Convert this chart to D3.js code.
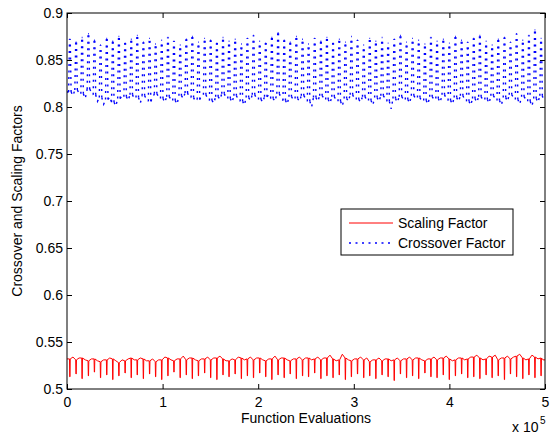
<!DOCTYPE html>
<html><head><meta charset="utf-8">
<script src="https://cdn.jsdelivr.net/npm/d3@7"></script>
<style>body{margin:0;background:#fff}svg{display:block}text{font-family:"Liberation Sans",Arial,sans-serif}</style>
</head><body><svg id="c" width="550" height="434"></svg>
<script>
// spike positions (function evaluations, thousands)
const spikeEvalsK = [3,9.5,15.8,22.4,28.7,35.1,41.6,47.9,54.3,60.8,67.2,73.5,79.9,86.4,92.7,99.1,105.6,111.9,118.4,124.8,131.1,137.5,144.0,150.3,156.8,163.2,169.5,175.9,182.4,188.7,195.1,201.6,207.9,214.3,220.8,227.2,233.5,239.9,246.4,252.7,259.1,265.6,271.9,278.3,284.8,291.2,297.5,303.9,310.4,316.7,323.1,329.6,335.9,342.3,348.8,355.2,361.5,367.9,374.4,380.7,387.1,393.6,399.9,406.3,412.8,419.2,425.5,431.9,438.4,444.7,451.1,457.6,463.9,470.3,476.8,483.2,489.5,495.9];
const crossoverPeak = [0.872,0.869,0.874,0.878,0.871,0.866,0.873,0.870,0.875,0.868,
0.872,0.876,0.869,0.873,0.867,0.871,0.874,0.870,0.866,0.872,
0.875,0.869,0.873,0.871,0.868,0.874,0.870,0.872,0.867,0.873,
0.876,0.870,0.868,0.874,0.879,0.871,0.869,0.875,0.872,0.867,
0.873,0.870,0.874,0.868,0.872,0.869,0.875,0.871,0.866,0.873,
0.870,0.874,0.868,0.872,0.876,0.869,0.873,0.871,0.867,0.874,
0.870,0.872,0.868,0.875,0.871,0.869,0.873,0.876,0.870,0.866,
0.872,0.874,0.869,0.878,0.871,0.876,0.882,0.873];
// pairs: value at spike, value at mid-gap after spike
const crossoverBase = [0.816,0.812,0.818,0.815,0.814,0.809,0.819,0.816,0.813,0.806,0.810,0.803,0.808,0.811,0.805,0.801,0.809,0.812,0.811,0.807,
0.813,0.809,0.810,0.804,0.812,0.808,0.806,0.810,0.814,0.811,0.809,0.805,0.811,0.808,0.807,0.803,0.812,0.809,0.815,0.810,
0.810,0.806,0.808,0.812,0.813,0.809,0.807,0.804,0.811,0.808,0.814,0.810,0.809,0.805,0.812,0.808,0.806,0.802,0.810,0.807,
0.813,0.809,0.808,0.805,0.811,0.813,0.809,0.806,0.814,0.810,0.807,0.803,0.811,0.808,0.809,0.806,0.812,0.809,0.806,0.800,
0.810,0.806,0.812,0.809,0.808,0.804,0.811,0.807,0.806,0.801,0.809,0.806,0.813,0.809,0.808,0.805,0.811,0.807,0.807,0.802,
0.810,0.806,0.812,0.809,0.806,0.798,0.809,0.805,0.811,0.808,0.808,0.804,0.812,0.809,0.810,0.806,0.807,0.803,0.811,0.808,
0.809,0.805,0.813,0.809,0.807,0.803,0.810,0.806,0.812,0.808,0.806,0.802,0.809,0.805,0.811,0.807,0.808,0.804,0.812,0.809,
0.807,0.802,0.810,0.806,0.813,0.810,0.808,0.803,0.811,0.808,0.806,0.801,0.809,0.805,0.812,0.809];
const scalingTrough = [0.513,0.516,0.511,0.514,0.518,0.512,0.515,0.510,0.514,0.517,
0.512,0.515,0.511,0.516,0.513,0.510,0.514,0.518,0.512,0.515,
0.511,0.514,0.517,0.512,0.510,0.515,0.513,0.516,0.511,0.514,
0.512,0.517,0.513,0.510,0.515,0.512,0.516,0.511,0.514,0.513,
0.517,0.511,0.514,0.512,0.515,0.510,0.513,0.516,0.512,0.514,
0.511,0.515,0.513,0.509,0.516,0.512,0.514,0.511,0.517,0.513,
0.512,0.515,0.510,0.514,0.516,0.512,0.513,0.511,0.515,0.512,
0.514,0.510,0.516,0.513,0.511,0.515,0.512,0.514];
const scalingBase = [0.532,0.534,0.531,0.533,0.533,0.531,0.530,0.532,0.532,0.530,0.529,0.531,0.531,0.533,0.532,0.530,0.528,0.531,0.530,0.532,
0.533,0.531,0.531,0.533,0.532,0.530,0.530,0.532,0.529,0.531,0.531,0.534,0.533,0.531,0.530,0.532,0.532,0.535,0.531,0.533,
0.533,0.531,0.530,0.532,0.532,0.534,0.531,0.533,0.533,0.535,0.532,0.530,0.530,0.532,0.531,0.534,0.533,0.531,0.532,0.534,
0.531,0.533,0.533,0.531,0.530,0.532,0.532,0.535,0.531,0.533,0.533,0.531,0.530,0.532,0.532,0.534,0.531,0.533,0.533,0.531,
0.532,0.534,0.531,0.533,0.533,0.536,0.532,0.530,0.531,0.537,0.533,0.531,0.530,0.532,0.532,0.534,0.531,0.533,0.529,0.531,
0.531,0.533,0.530,0.532,0.532,0.530,0.531,0.533,0.530,0.532,0.532,0.534,0.531,0.533,0.533,0.531,0.530,0.532,0.532,0.534,
0.531,0.533,0.533,0.535,0.532,0.530,0.531,0.533,0.533,0.531,0.532,0.534,0.534,0.536,0.533,0.531,0.532,0.535,0.534,0.536,
0.531,0.533,0.533,0.535,0.532,0.534,0.535,0.537,0.533,0.531,0.532,0.536,0.534,0.532,0.533,0.531];
const xTicks = [0,100000,200000,300000,400000,500000];
const xTickLabels = ["0","1","2","3","4","5"];
const yTicks = [0.5,0.55,0.6,0.65,0.7,0.75,0.8,0.85,0.9];
const yTickLabels = ["0.5","0.55","0.6","0.65","0.7","0.75","0.8","0.85","0.9"];
const seriesNames = ["Scaling Factor","Crossover Factor"];

const svg = d3.select("#c");
const L=67,R=545,T=13,B=389;
const x = d3.scaleLinear().domain([0,500000]).range([L,R]);
const y = d3.scaleLinear().domain([0.5,0.9]).range([B,T]);
const line = d3.line().x(d=>x(d[0])).y(d=>y(d[1]));

// break a spike series into segments: base runs, and the two legs of each spike (each leg starts at the base)
function segments(peaks, base, halfW){
  const segs=[]; let run=[[0, base[0]]];
  spikeEvalsK.forEach((k,i)=>{
    const e=k*1000, b=base[2*i], p=peaks[i];
    run.push([e-halfW, b]); segs.push(run);
    segs.push([[e-halfW,b],[e-halfW*0.3,p]]);
    segs.push([[e+halfW,b],[e+halfW*0.3,p]]);
    segs.push([[e-halfW*0.3,p],[e+halfW*0.3,p]]);
    const next = i+1<spikeEvalsK.length ? spikeEvalsK[i+1]*1000 : 500000;
    run=[[e+halfW,b],[(e+next)/2, base[2*i+1]]];
  });
  run.push([500000, base[base.length-1]]); segs.push(run);
  return segs;
}
const scalSegs = segments(scalingTrough, scalingBase, 400);
const crossSegs = segments(crossoverPeak, crossoverBase, 1300);

svg.append("rect").attr("x",L).attr("y",T).attr("width",R-L).attr("height",B-T).attr("fill","#fff");
const g = svg.append("g");
g.selectAll("path.s").data(scalSegs).join("path").attr("class","s").attr("d",line)
  .attr("fill","none").attr("stroke","#ff0000").attr("stroke-width",1);
g.selectAll("path.c").data(crossSegs).join("path").attr("class","c").attr("d",line)
  .attr("fill","none").attr("stroke","#0000ff").attr("stroke-width",1.4).attr("stroke-dasharray","2 4.5");

// axes
const fs=14;
const ax = svg.append("g").attr("transform",`translate(0,${B})`)
  .call(d3.axisBottom(x).tickValues(xTicks).tickFormat((d,i)=>xTickLabels[i]).tickSizeInner(-5).tickSizeOuter(0).tickPadding(8));
const ay = svg.append("g").attr("transform",`translate(${L},0)`)
  .call(d3.axisLeft(y).tickValues(yTicks).tickFormat((d,i)=>yTickLabels[i]).tickSizeInner(-5).tickSizeOuter(0).tickPadding(4));
const at = svg.append("g").attr("transform",`translate(0,${T})`)
  .call(d3.axisTop(x).tickValues(xTicks).tickFormat("").tickSizeInner(-5).tickSizeOuter(0));
const ar = svg.append("g").attr("transform",`translate(${R},0)`)
  .call(d3.axisRight(y).tickValues(yTicks).tickFormat("").tickSizeInner(-5).tickSizeOuter(0));
[ax,ay,at,ar].forEach(a=>{
  a.select(".domain").remove();
  a.selectAll("line").attr("stroke","#000");
  a.selectAll("text").attr("font-size",fs).attr("fill","#000").attr("font-family","Liberation Sans, Arial, sans-serif");
});
svg.append("rect").attr("x",L).attr("y",T).attr("width",R-L).attr("height",B-T).attr("fill","none").attr("stroke","#000").attr("stroke-width",1);

svg.append("text").attr("x",(L+R)/2).attr("y",423).attr("text-anchor","middle").attr("font-size",fs).text("Function Evaluations");
svg.append("text").attr("transform",`translate(22,${(T+B)/2}) rotate(-90)`).attr("text-anchor","middle").attr("font-size",fs).text("Crossover and Scaling Factors");
svg.append("text").attr("x",512).attr("y",432).attr("font-size",fs).text("x 10");
svg.append("text").attr("x",540).attr("y",424).attr("font-size",10).text("5");

// legend
const lg = svg.append("g");
lg.append("rect").attr("x",341).attr("y",209).attr("width",172).attr("height",46).attr("fill","#fff").attr("stroke","#000").attr("stroke-width",1);
lg.append("line").attr("x1",349).attr("x2",393).attr("y1",223).attr("y2",223).attr("stroke","#ff0000");
lg.append("line").attr("x1",349).attr("x2",393).attr("y1",243).attr("y2",243).attr("stroke","#0000ff").attr("stroke-width",1.4).attr("stroke-dasharray","2 4.5");
lg.append("text").attr("x",398).attr("y",228).attr("font-size",fs).text(seriesNames[0]);
lg.append("text").attr("x",398).attr("y",248).attr("font-size",fs).text(seriesNames[1]);
</script></body></html>
